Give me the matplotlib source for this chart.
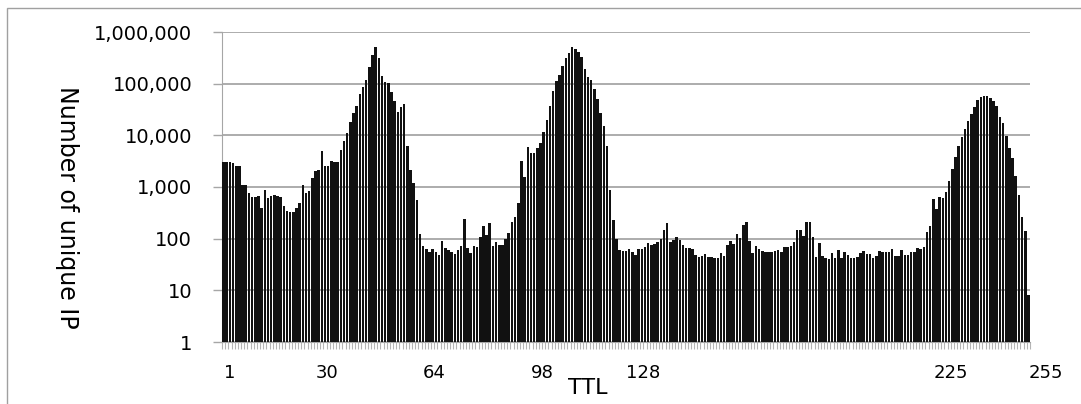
import matplotlib.pyplot as plt
import numpy as np
from matplotlib.patches import Rectangle
from matplotlib.ticker import NullLocator

# TTL 1..255 and number of unique IPs per TTL
ttl = np.arange(1, 256)
unique_ip = [
    3100, 3100, 3050, 2950, 2600, 2500, 1100, 1100, 760, 650,
    630, 670, 400, 870, 600, 680, 700, 670, 650, 430,
    345, 330, 325, 400, 500, 1100, 780, 830, 1500, 2000,
    2100, 5000, 2600, 2600, 3200, 3000, 3000, 5200, 7600, 11000,
    18000, 27000, 37000, 63000, 85000, 120000, 210000, 360000, 520000, 320000,
    140000, 107000, 105000, 68000, 46000, 28000, 36000, 40000, 6300, 2100,
    1200, 550, 123, 72, 62, 55, 62, 55, 48, 89,
    65, 60, 56, 50, 60, 72, 240, 65, 52, 72,
    68, 106, 177, 120, 198, 72, 88, 75, 75, 100,
    126, 214, 267, 500, 3200, 1540, 5900, 4600, 4600, 5800,
    7000, 11800, 20000, 37000, 73000, 115000, 150000, 220000, 310000, 390000,
    520000, 460000, 415000, 333000, 190000, 137000, 118000, 78000, 50000, 27500,
    15000, 6300, 875, 230, 97, 60, 59, 59, 62, 56,
    48, 62, 62, 70, 81, 75, 78, 87, 97, 148,
    203, 87, 94, 106, 94, 75, 65, 67, 62, 48,
    44, 47, 50, 44, 44, 43, 43, 52, 47, 75,
    92, 79, 123, 101, 184, 210, 92, 53, 72, 62,
    58, 56, 54, 54, 58, 60, 54, 70, 70, 73,
    86, 147, 147, 112, 214, 214, 108, 45, 83, 47,
    43, 41, 52, 43, 60, 43, 56, 48, 43, 43,
    44, 53, 58, 50, 50, 43, 46, 58, 56, 56,
    54, 62, 47, 47, 60, 49, 49, 54, 54, 65,
    64, 70, 135, 176, 580, 370, 650, 600, 790, 1300,
    2200, 3800, 6300, 9400, 13000, 19000, 26000, 35000, 48000, 56000,
    59000, 58000, 53000, 46000, 37000, 23000, 17000, 9700, 5600, 3600,
    1650, 700, 266, 141, 8,
]
tick_ttl = [1, 30, 64, 98, 128, 225, 255]
y_ticks = [1, 10, 100, 1000, 10000, 100000, 1000000]

W, H = 1081, 404
fig = plt.figure(figsize=(W / 100, H / 100), dpi=100)
ax = fig.add_axes([222 / W, 1 - 342 / H, 808 / W, 310 / H])

x = ttl - 1
ax.bar(x, unique_ip, width=0.8, color='#111111', zorder=3)
ax.set_yscale('log')
ax.set_ylim(1, 1e6)
ax.set_xlim(-0.5, len(ttl) - 0.5)

grey = '#a6a6a6'
ax.set_yticks(y_ticks)
ax.set_yticklabels([f'{v:,}' for v in y_ticks], fontsize=14)
ax.yaxis.set_minor_locator(NullLocator())
ax.grid(axis='y', color=grey, lw=1.3, zorder=0)
ax.tick_params(axis='y', length=6.5, width=1, color=grey, pad=15)

ax.set_xticks([t - 1 for t in tick_ttl])
ax.set_xticklabels([str(t) for t in tick_ttl], fontsize=13, ha='left')
ax.set_xticks(np.arange(-0.5, len(ttl)), minor=True)
ax.tick_params(axis='x', which='major', length=0, pad=16)
ax.tick_params(axis='x', which='minor', length=5, width=0.8, color='#b4b4b4')

for s in ['top', 'right']:
    ax.spines[s].set_visible(False)
ax.spines['left'].set_color(grey)
ax.spines['bottom'].set_color(grey)

fig.text(588 / W, 1 - 388 / H, 'TTL', ha='center', va='center', fontsize=16)
fig.text(67 / W, 1 - 207 / H, 'Number of unique IP', rotation=-90,
         ha='center', va='center', fontsize=17)

# chart frame (only top and left edges are inside the picture)
fig.add_artist(Rectangle((7.5 / W, -0.5), 2, 1 - 7.5 / H + 0.5,
                         transform=fig.transFigure, fill=False,
                         edgecolor='#a0a0a0', lw=1))

fig.savefig('out.png', dpi=100)
